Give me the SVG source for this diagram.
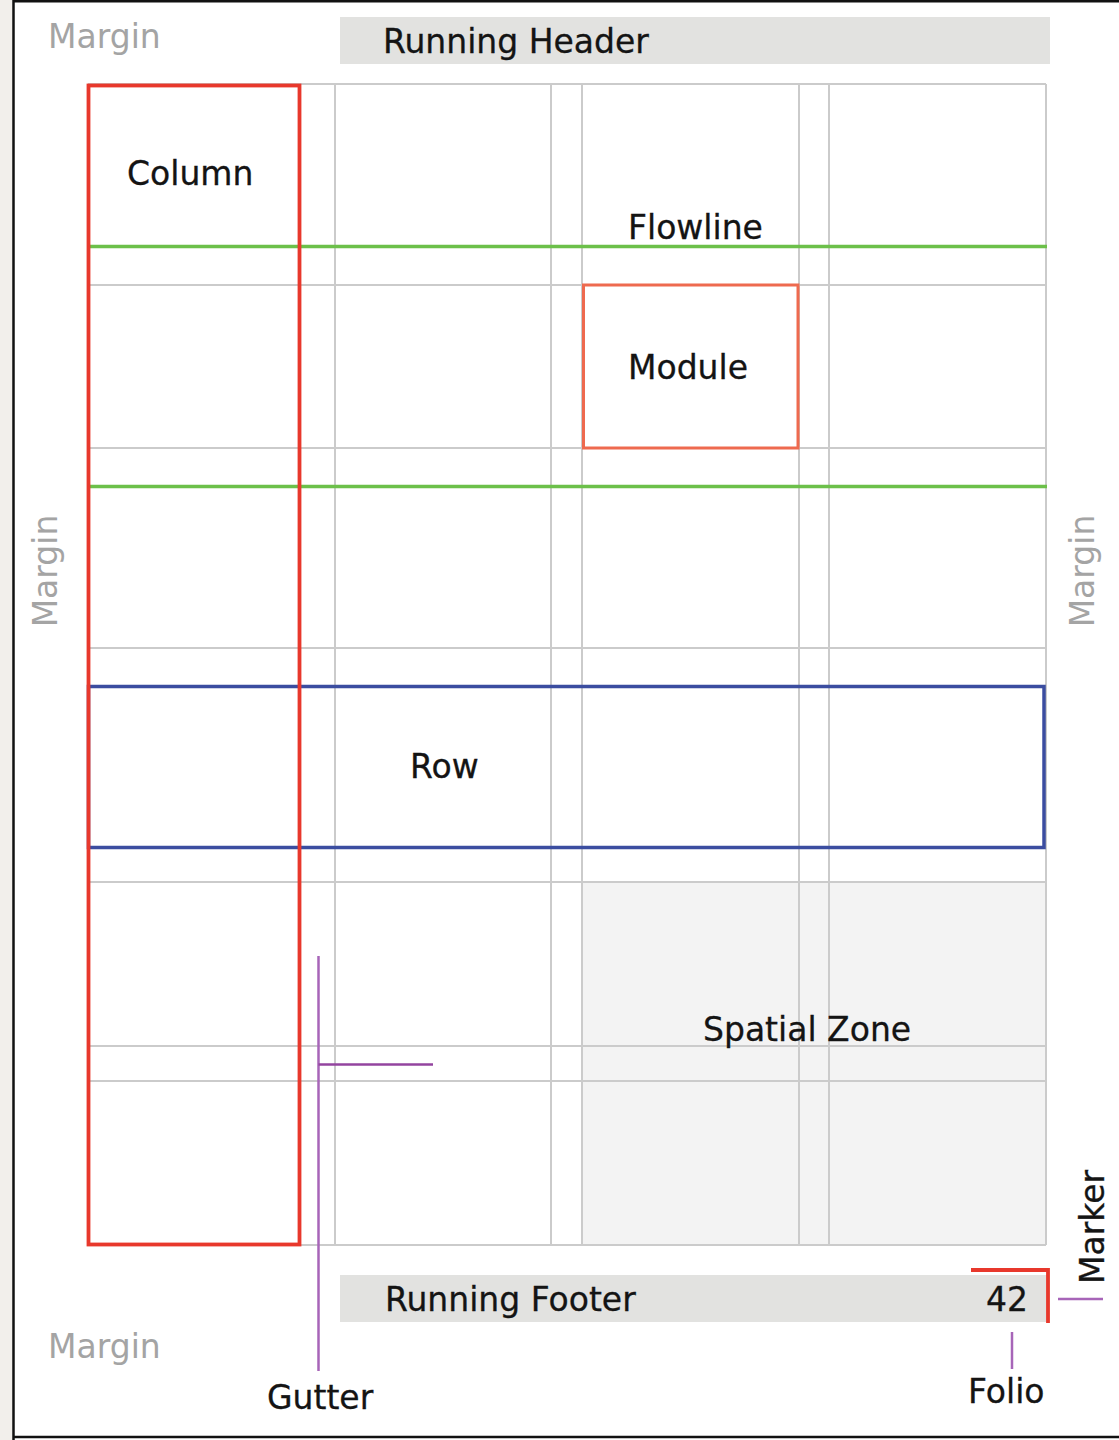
<svg xmlns="http://www.w3.org/2000/svg" width="1119" height="1440" viewBox="0 0 1119 1440">
<style>
.t{font-family:"DejaVu Sans",Verdana,sans-serif;font-size:33px;fill:#141414;stroke:#141414;stroke-width:0.3}
.m{font-family:"DejaVu Sans",Verdana,sans-serif;font-size:33px;fill:#a4a4a4}
.g{stroke:#cbcbcb;stroke-width:2;fill:none}
.lead{stroke:#a765b8;stroke-width:2.5;fill:none}
.bar{fill:#e2e2e0}
</style>
<rect x="0" y="0" width="1119" height="1440" fill="#ffffff"/>
<rect x="0" y="0" width="13" height="1440" fill="#f2efeb"/>
<g id="frame" stroke="#111" stroke-width="2.5" fill="none">
<line x1="13.5" y1="0" x2="13.5" y2="1440"/>
<line x1="13" y1="1.2" x2="1119" y2="1.2"/>
<line x1="13" y1="1437" x2="1119" y2="1437"/>
</g>
<g id="spatial-zone">
<rect x="582" y="882" width="464" height="363" fill="#f3f3f3"/>
</g>
<g id="grid" class="g">
<path d="M88 84V1245M300 84V1245M335 84V1245M551 84V1245M582 84V1245M799 84V1245M829 84V1245M1046 84V1245"/>
<path d="M88 84H1046M88 246H1046M88 285H1046M88 448H1046M88 486H1046M88 648H1046M88 686H1046M88 848H1046M88 882H1046M88 1046H1046M88 1081H1046M88 1245H1046"/>
</g>
<g id="spatial-zone-label"><text class="t" x="703" y="1041">Spatial Zone</text></g>
<g id="flowlines" stroke="#6cc04a" stroke-width="3.5">
<line x1="88" y1="246.5" x2="1047" y2="246.5"/>
<line x1="88" y1="486.5" x2="1047" y2="486.5"/>
</g>
<g id="flowline-label"><text class="t" x="628" y="239">Flowline</text></g>
<g id="module">
<rect x="583.5" y="285" width="214.5" height="163" fill="none" stroke="#ee6a4f" stroke-width="3"/>
<text class="t" x="628" y="379">Module</text>
</g>
<g id="row">
<rect x="88.5" y="686.5" width="955.5" height="161" fill="none" stroke="#3b4da0" stroke-width="3.5"/>
<text class="t" x="410" y="778">Row</text>
</g>
<g id="column">
<rect x="88.5" y="85.5" width="211" height="1159" fill="none" stroke="#e8382c" stroke-width="3.8"/>
<text class="t" x="127" y="185">Column</text>
</g>
<g id="running-header">
<rect class="bar" x="340" y="17" width="710" height="47"/>
<text class="t" x="383" y="53">Running Header</text>
</g>
<g id="running-footer">
<rect class="bar" x="340" y="1275" width="707" height="47"/>
<text class="t" x="385" y="1311">Running Footer</text>
<text class="t" x="986" y="1311">42</text>
</g>
<g id="marker">
<path d="M971 1270H1048V1323" fill="none" stroke="#e8382c" stroke-width="3.8"/>
<text class="t" transform="translate(1104 1227) rotate(-90)" text-anchor="middle">Marker</text>
</g>
<g id="folio"><text class="t" x="968" y="1403">Folio</text></g>
<g id="gutter"><text class="t" x="267" y="1409">Gutter</text></g>
<g id="margins">
<text class="m" x="48" y="48">Margin</text>
<text class="m" x="48" y="1358">Margin</text>
<text class="m" transform="translate(57 571) rotate(-90)" text-anchor="middle">Margin</text>
<text class="m" transform="translate(1094 571) rotate(-90)" text-anchor="middle">Margin</text>
</g>
<g id="connectors" class="lead">
<line x1="318.5" y1="956" x2="318.5" y2="1371"/>
<line x1="318.5" y1="1064.5" x2="433" y2="1064.5" stroke="#93449f"/>
<line x1="1058" y1="1299" x2="1103" y2="1299"/>
<line x1="1012" y1="1332" x2="1012" y2="1369"/>
</g>
</svg>
